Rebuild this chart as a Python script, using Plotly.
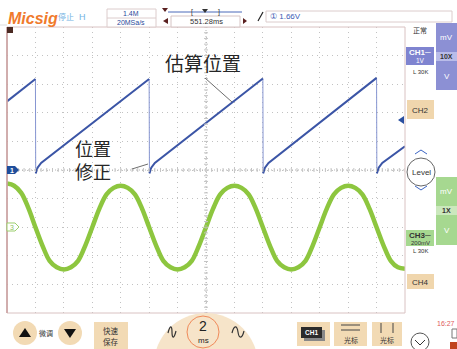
import plotly.graph_objects as go

# ---------------- data ----------------
# CH1 (blue) : estimated position, volts, 1 V/div, ground on centre line
blue_t = [-14, -12, -11.98, -11.85, -11.6, -4, -3.98, -3.85, -3.6,
          4, 4.02, 4.15, 4.4, 12, 12.02, 12.15, 12.4, 14]
blue_v = [2.40, 3.18, -0.12, 0.08, 0.25, 3.18, -0.12, 0.08, 0.25,
          3.20, -0.12, 0.08, 0.25, 3.22, -0.12, 0.08, 0.25, 0.83]

# CH3 (green) : volts, 200 mV/div, ground two divisions below centre
green_t = [-14, -13.5, -13, -12.5, -12, -11.5, -11, -10.5, -10, -9.5, -9, -8.5,
           -8, -7.5, -7, -6.5, -6, -5.5, -5, -4.5, -4, -3.5, -3, -2.5, -2, -1.5,
           -1, -0.5, 0, 0.5, 1, 1.5, 2, 2.5, 3, 3.5, 4, 4.5, 5, 5.5, 6, 6.5, 7,
           7.5, 8, 8.5, 9, 9.5, 10, 10.5, 11, 11.5, 12, 12.5, 13, 13.5, 14]
green_v = [0.305, 0.29, 0.24, 0.135, 0.0, -0.13, -0.235, -0.28, -0.295, -0.28,
           -0.235, -0.13, 0.0, 0.13, 0.23, 0.275, 0.29, 0.275, 0.23, 0.13, 0.0,
           -0.13, -0.235, -0.28, -0.295, -0.28, -0.235, -0.13, 0.0, 0.13, 0.23,
           0.275, 0.29, 0.275, 0.23, 0.13, 0.0, -0.13, -0.235, -0.28, -0.295,
           -0.28, -0.235, -0.13, 0.0, 0.13, 0.23, 0.275, 0.29, 0.275, 0.23, 0.13,
           0.0, -0.13, -0.235, -0.28, -0.29]

CH1_SCALE, CH1_OFFSET = 1.0, 0.0     # V/div, div
CH3_SCALE, CH3_OFFSET = 0.2, -2.0

label_est = "估算位置"
label_fix = "位置<br>修正"

BLUE = "#3b55a6"
BLUE_LIGHT = "#8796d2"
GREEN = "#8dc63f"
BEIGE = "#f2dab4"
SANS = "Liberation Sans, Arial, sans-serif"
CJK = "Noto Sans CJK SC"

W, H = 457, 349
L, R, T, B = 7, 405, 27, 313


def px(x):
    return (x - L) / (R - L)


def py(y):
    return (B - y) / (B - T)


fig = go.Figure()

# green trace
fig.add_trace(go.Scatter(
    x=green_t, y=[v / CH3_SCALE + CH3_OFFSET for v in green_v], mode="lines",
    line=dict(color=GREEN, width=4.5, shape="spline", smoothing=1.0),
    hoverinfo="skip"))

# blue trace: ramps thick, fast drops thin
ramp_x, ramp_y, drop_x, drop_y = [], [], [], []
for i, (t, v) in enumerate(zip(blue_t, blue_v)):
    y = v / CH1_SCALE + CH1_OFFSET
    ramp_x.append(t)
    ramp_y.append(y)
    if i + 1 < len(blue_t) and blue_v[i + 1] < v - 1:
        ramp_x.append(None)
        ramp_y.append(None)
        drop_x += [t, blue_t[i + 1], None]
        drop_y += [y, blue_v[i + 1] / CH1_SCALE + CH1_OFFSET, None]
fig.add_trace(go.Scatter(x=drop_x, y=drop_y, mode="lines",
                         line=dict(color=BLUE_LIGHT, width=1), hoverinfo="skip"))
fig.add_trace(go.Scatter(x=ramp_x, y=ramp_y, mode="lines",
                         line=dict(color=BLUE, width=2), hoverinfo="skip"))

shapes = []


def rect(x0, y0, x1, y1, fill=None, line=None, lw=1):
    shapes.append(dict(type="rect", xref="paper", yref="paper",
                       x0=px(x0), y0=py(y0), x1=px(x1), y1=py(y1),
                       fillcolor=fill or "rgba(0,0,0,0)",
                       line=dict(color=line or "rgba(0,0,0,0)", width=lw if line else 0)))


def circ(cx, cy, r, fill=None, line=None, lw=1):
    shapes.append(dict(type="circle", xref="paper", yref="paper",
                       x0=px(cx - r), y0=py(cy - r), x1=px(cx + r), y1=py(cy + r),
                       fillcolor=fill or "rgba(0,0,0,0)",
                       line=dict(color=line or "rgba(0,0,0,0)", width=lw if line else 0)))


def seg(x0, y0, x1, y1, color="#666", lw=1, dash=None):
    d = dict(color=color, width=lw)
    if dash:
        d["dash"] = dash
    shapes.append(dict(type="line", xref="paper", yref="paper",
                       x0=px(x0), y0=py(y0), x1=px(x1), y1=py(y1), line=d))


def poly(pts, fill=None, line=None, lw=1, close=True):
    p = "M " + " L ".join(f"{px(a):.5f},{py(b):.5f}" for a, b in pts)
    if close:
        p += " Z"
    shapes.append(dict(type="path", xref="paper", yref="paper", path=p,
                       fillcolor=fill or "rgba(0,0,0,0)",
                       line=dict(color=line or "rgba(0,0,0,0)", width=lw if line else 0)))


def curve(path_pts):
    s = ""
    for cmd, pts in path_pts:
        s += cmd + " " + " ".join(f"{px(a):.5f},{py(b):.5f}" for a, b in pts) + " "
    shapes.append(dict(type="path", xref="paper", yref="paper", path=s.strip(),
                       line=dict(color="#333", width=1.2)))


def txt(x, y, s, size, color="#222", family=SANS, xanchor="center"):
    fig.add_annotation(x=px(x), y=py(y), xref="paper", yref="paper", text=s,
                       showarrow=False, xanchor=xanchor, yanchor="middle",
                       borderpad=0, font=dict(size=size, color=color, family=family))


# centre lines with ticks
shapes.append(dict(type="line", xref="x", yref="y", x0=0, x1=0, y0=-5, y1=5,
                   line=dict(color="#b5b5b5", width=1, dash="1px,2px")))
shapes.append(dict(type="line", xref="x", yref="y", x0=-14, x1=14, y0=0, y1=0,
                   line=dict(color="#b5b5b5", width=1, dash="1px,2px")))
for k in range(-25, 26):
    yy = k * 0.2
    shapes.append(dict(type="line", xref="x", yref="y", x0=-0.14, x1=0.14, y0=yy, y1=yy,
                       line=dict(color="#c4c4c4", width=1)))
for k in range(-35, 36):
    xx = k * 0.4
    shapes.append(dict(type="line", xref="x", yref="y", x0=xx, x1=xx, y0=-0.07, y1=0.07,
                       line=dict(color="#c4c4c4", width=1)))

# plot frame
rect(L, T, R, B, line="#d9c2c2", lw=1)
seg(L, T, L, B, color="#c99c9c", lw=1.5)
seg(0, 25, L, 25, color="#ddd", lw=1)

# channel markers
poly([(7, 166), (15, 166), (19, 170), (15, 174), (7, 174)], fill="#1f4e9c")
txt(12, 170, "<b>1</b>", 7, color="white")
poly([(7, 223), (15, 223), (19, 227), (15, 231), (7, 231)], fill="white", line="#9ccf6e")
txt(12, 227, "3", 7, color="#8cc463")
rect(7, 27, 13, 33, fill="#4a2a22")
poly([(398, 120), (404, 116), (404, 124)], fill="#2a4fa0")

# labels on the traces
txt(203, 63, label_est, 19, color="#262626", family=CJK)
seg(205, 78, 232, 102, color="#6e6e6e", lw=1)
txt(93, 159, label_fix, 18, color="#262626", family=CJK)
seg(132, 169, 148, 164, color="#6e6e6e", lw=1)

# ---------------- top bar ----------------
txt(33, 18, "<b><i>Micsig</i></b>", 16, color="#f07a2c")
txt(66, 17, "停止", 8, color="#74b4e4", family=CJK)
txt(82, 17, "H", 9, color="#74b4e4")
rect(107, 9, 156, 27, fill="white", line="#dccccc")
seg(107, 18, 156, 18, color="#dccccc")
txt(131, 13.5, "1.4M", 7, color="#2a4a9a")
txt(131, 22.5, "20MSa/s", 7, color="#2a4a9a")
poly([(162, 8), (168, 8), (165, 12)], fill="#5a2020")
seg(168, 12, 242, 12, color="#4a68b8", lw=1)
txt(192, 12, "[", 7, color="#333")
poly([(202, 9), (208, 9), (205, 13)], fill="#333")
txt(219, 12, "]", 7, color="#333")
poly([(163, 21), (168, 18), (168, 24)], fill="#5a2020")
rect(171, 16, 240, 27, fill="white", line="#d6c4c4")
txt(206, 21.5, "551.28ms", 7.5, color="#333")
poly([(243, 18), (247, 21), (243, 24)], fill="#5a2020")
seg(258, 21, 263, 12, color="#222", lw=1.2)
rect(266, 11, 452, 22, fill="white", line="#dccccc")
txt(269, 16.5, "① 1.66V", 8, color="#3a5ab5", xanchor="left")

# ---------------- right panel ----------------
txt(420, 30, "正常", 7, color="#333", family=CJK)
rect(436, 23, 458, 90, fill="#8c90d4")
rect(436, 52, 458, 61, fill="#b9bce9")
txt(447, 37, "mV", 8, color="white")
txt(447, 56.5, "<b>10X</b>", 7, color="#333")
txt(447, 76, "V", 8, color="white")
rect(406, 47, 434, 65, fill="#7f84d0")
txt(420, 52, "<b>CH1─</b>", 8, color="white")
txt(420, 60.5, "1V", 6.5, color="white")
txt(420, 72, "L 30K", 6, color="#333")
rect(407, 100, 434, 119, fill="#f0d6ad")
txt(420, 110, "CH2", 8, color="#333")
poly([(415, 154), (421, 150), (427, 154)], line="#3a64c4", lw=1, close=False)
circ(421, 172, 14, fill="white", line="#666")
txt(421, 172, "Level", 8, color="#333")
poly([(415, 186), (421, 190), (427, 186)], line="#3a64c4", lw=1, close=False)
rect(436, 177, 458, 245, fill="#a6d890")
rect(436, 206, 458, 215, fill="#cbe8bd")
txt(447, 192, "mV", 8, color="white")
txt(447, 210.5, "<b>1X</b>", 7, color="#333")
txt(447, 230, "V", 8, color="white")
rect(406, 230, 434, 246, fill="#a6d890")
txt(420, 235, "<b>CH3─</b>", 8, color="#333")
txt(420, 242.5, "200mV", 6, color="#333")
txt(420, 251, "L 30K", 6, color="#333")
rect(407, 274, 434, 289, fill="#f0d6ad")
txt(420, 282, "CH4", 8, color="#333")

# ---------------- bottom toolbar ----------------
circ(25, 333, 12, fill=BEIGE)
poly([(19, 337), (31, 337), (25, 328)], fill="#111")
txt(46, 333, "微调", 7, color="#333", family=CJK)
circ(70, 333, 12, fill=BEIGE)
poly([(64, 329), (76, 329), (70, 338)], fill="#111")
rect(94, 322, 128, 349, fill=BEIGE)
txt(111, 330, "快速", 7.5, color="#333", family=CJK)
txt(111, 341, "保存", 7.5, color="#333", family=CJK)
circ(206, 365, 52, fill="#f6e4c9")
circ(203, 332, 16, line="#f08a5a", lw=1)
txt(203, 326, "2", 14, color="#222")
txt(203, 340, "ms", 8, color="#222")
curve([("M", [(168, 333)]), ("C", [(170, 325), (172, 325), (172, 332)]),
       ("C", [(172, 339), (174, 339), (176, 331)])])
curve([("M", [(232, 333)]), ("C", [(234, 325), (237, 325), (238, 332)]),
       ("C", [(239, 339), (242, 339), (244, 331)])])
rect(297, 322, 330, 346, fill=BEIGE)
rect(304, 330, 325, 341, fill="#888")
rect(301, 327, 322, 338, fill="#2b2b2b")
txt(311.5, 332.5, "<b>CH1</b>", 6.5, color="white")
rect(334, 322, 367, 346, fill=BEIGE)
seg(341, 325, 360, 325, color="#444")
seg(341, 330, 360, 330, color="#444")
txt(351, 340, "光标", 7, color="#333", family=CJK)
rect(372, 322, 402, 346, fill=BEIGE)
seg(381, 323, 381, 333, color="#444")
seg(393, 323, 393, 333, color="#444")
txt(387, 340, "光标", 7, color="#333", family=CJK)
circ(420, 342, 9, fill="white", line="#555")
poly([(415, 340), (420, 345), (425, 340)], line="#333", lw=1, close=False)
txt(456, 323, "16:27", 7, color="#e05a5a", xanchor="right")
rect(452, 329, 457, 338, line="#777")
rect(450, 342, 457, 349, fill="#c0441e")

fig.update_layout(
    width=W, height=H, margin=dict(l=L, r=W - R, t=T, b=H - B, pad=0),
    paper_bgcolor="white", plot_bgcolor="white", showlegend=False,
    shapes=shapes,
    xaxis=dict(range=[-14, 14], dtick=2, tick0=0, showgrid=True, gridcolor="#c2c2c2",
               griddash="1px,4px", gridwidth=1, zeroline=False, showticklabels=False,
               ticks="", showline=False, fixedrange=True),
    yaxis=dict(range=[-5, 5], dtick=1, tick0=0, showgrid=True, gridcolor="#c2c2c2",
               griddash="1px,4px", gridwidth=1, zeroline=False, showticklabels=False,
               ticks="", showline=False, fixedrange=True),
)

fig.write_html("out.html")
